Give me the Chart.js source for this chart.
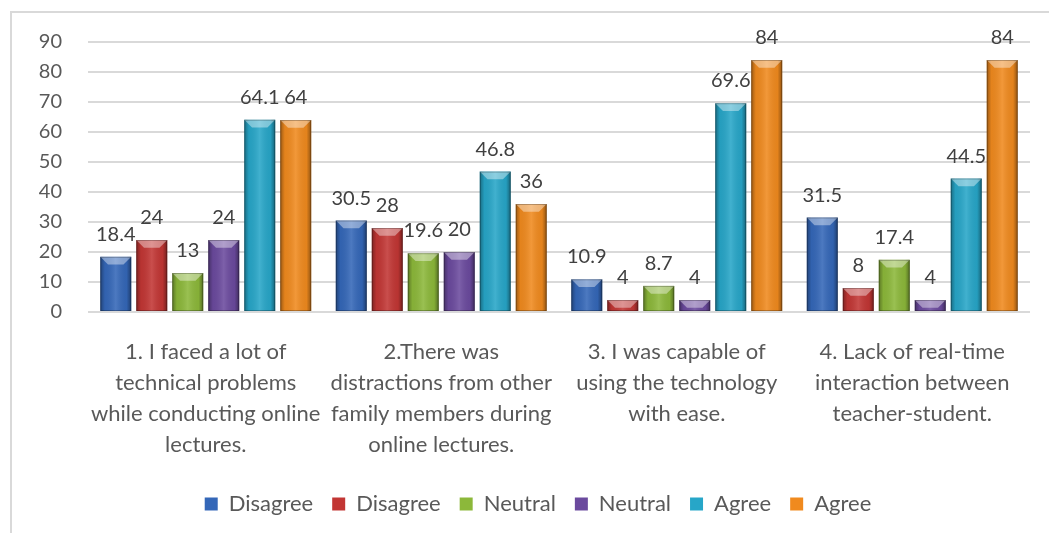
<!DOCTYPE html>
<html>
<head>
<meta charset="utf-8">
<script src="https://cdn.jsdelivr.net/npm/chart.js@4.4.1/dist/chart.umd.min.js"></script>
<style>
  html, body { margin: 0; padding: 0; background: #fff; }
  #wrap { position: relative; width: 1049px; height: 533px; overflow: hidden; }
  #frame { position: absolute; left: 10px; top: 11px; width: 1060px; height: 560px;
           border: 2px solid #d9d9d9; box-sizing: border-box; }
  canvas { position: absolute; left: 0; top: 0; }
</style>
</head>
<body>
<div id="wrap">
  <div id="frame"></div>
  <canvas id="chart1" width="1049" height="533"></canvas>
</div>
<script>
  "use strict";

  var categories = [
    ['1. I faced a lot of', 'technical problems', 'while conducting online', 'lectures.'],
    ['2.There was', 'distractions from other', 'family members during', 'online lectures.'],
    ['3. I was capable of', 'using the technology', 'with ease.'],
    ['4. Lack of real-time', 'interaction between', 'teacher-student.']
  ];
  var seriesNames = ['Disagree', 'Disagree', 'Neutral', 'Neutral', 'Agree', 'Agree'];
  var disagree1 = [18.4, 30.5, 10.9, 31.5];
  var disagree2 = [24, 28, 4, 8];
  var neutral1  = [13, 19.6, 8.7, 17.4];
  var neutral2  = [24, 20, 4, 4];
  var agree1    = [64.1, 46.8, 69.6, 44.5];
  var agree2    = [64, 36, 84, 84];
  var yTicks    = [0, 10, 20, 30, 40, 50, 60, 70, 80, 90];

  var colors = ['#3467b8', '#c23634', '#8cb83a', '#6b4a9e', '#27a6c8', '#f08a1e'];
  var values = [disagree1, disagree2, neutral1, neutral2, agree1, agree2];

  var FONT = 'Lato, "Open Sans", sans-serif';

  // bevel look on each bar, drawn on top of the library's bars
  var bevelPlugin = {
    id: 'bevel',
    afterDatasetsDraw: function(chart) {
      var ctx = chart.ctx;
      chart.data.datasets.forEach(function(ds, i) {
        chart.getDatasetMeta(i).data.forEach(function(bar) {
          var w = bar.width, l = bar.x - w / 2, t = bar.y, h = bar.base - bar.y;
          if (h <= 0) return;
          ctx.save();
          var g = ctx.createLinearGradient(l, 0, l + w, 0);
          g.addColorStop(0, 'rgba(0,0,0,0.35)');
          g.addColorStop(0.15, 'rgba(0,0,0,0.05)');
          g.addColorStop(0.5, 'rgba(255,255,255,0.12)');
          g.addColorStop(0.85, 'rgba(0,0,0,0.05)');
          g.addColorStop(1, 'rgba(0,0,0,0.4)');
          ctx.fillStyle = g;
          ctx.fillRect(l, t, w, h);
          var d = Math.min(w / 4, h);
          ctx.beginPath();
          ctx.moveTo(l, t);
          ctx.lineTo(l + w, t);
          ctx.lineTo(l + w - d, t + d);
          ctx.lineTo(l + d, t + d);
          ctx.closePath();
          ctx.fillStyle = 'rgba(255,255,255,0.4)';
          ctx.fill();
          ctx.strokeStyle = 'rgba(0,0,0,0.25)';
          ctx.lineWidth = 1;
          ctx.strokeRect(l + 0.5, t + 0.5, w - 1, h - 1);
          ctx.restore();
        });
      });
    }
  };

  var valueLabels = {
    id: 'valueLabels',
    afterDatasetsDraw: function(chart) {
      var ctx = chart.ctx;
      ctx.save();
      ctx.font = '20px ' + FONT;
      ctx.fillStyle = '#404040';
      ctx.textAlign = 'center';
      ctx.textBaseline = 'alphabetic';
      chart.data.datasets.forEach(function(ds, i) {
        chart.getDatasetMeta(i).data.forEach(function(bar, j) {
          ctx.fillText(String(ds.data[j]), bar.x, bar.y - 16);
        });
      });
      ctx.restore();
    }
  };

  // legend sits a bit right of centre in the original
  var legendShift = {
    id: 'legendShift',
    afterLayout: function(chart) {
      chart.legend.left += 46;
    }
  };

  var ctx = document.getElementById('chart1').getContext('2d');

  var myChart = new Chart(ctx, {
    type: 'bar',
    data: {
      labels: categories,
      datasets: seriesNames.map(function(name, i) {
        return {
          label: name,
          data: values[i],
          backgroundColor: colors[i],
          borderWidth: 0
        };
      })
    },
    plugins: [bevelPlugin, valueLabels, legendShift],
    options: {
      responsive: false,
      animation: false,
      categoryPercentage: 0.917,
      barPercentage: 0.86,
      layout: { padding: { left: 0, right: 19, top: 42, bottom: 8 } },
      plugins: {
        tooltip: { enabled: false },
        legend: {
          position: 'bottom',
          labels: {
            boxWidth: 13,
            boxHeight: 13,
            padding: 19,
            color: '#595959',
            font: { family: FONT, size: 22 }
          }
        }
      },
      scales: {
        x: {
          grid: { display: false, drawTicks: false },
          border: { display: false },
          ticks: {
            color: '#595959',
            padding: 25,
            maxRotation: 0,
            autoSkip: false,
            font: { family: FONT, size: 22, lineHeight: 1.4 }
          },
          afterFit: function(scale) { scale.height = 162; }
        },
        y: {
          min: 0,
          max: 90,
          afterBuildTicks: function(scale) {
            scale.ticks = yTicks.map(function(v) { return { value: v }; });
          },
          grid: { color: '#d9d9d9', lineWidth: 2, drawTicks: false },
          border: { display: false },
          ticks: {
            color: '#595959',
            padding: 26,
            font: { family: FONT, size: 20 }
          },
          afterFit: function(scale) { scale.width = 88; }
        }
      }
    }
  });
</script>
</body>
</html>
